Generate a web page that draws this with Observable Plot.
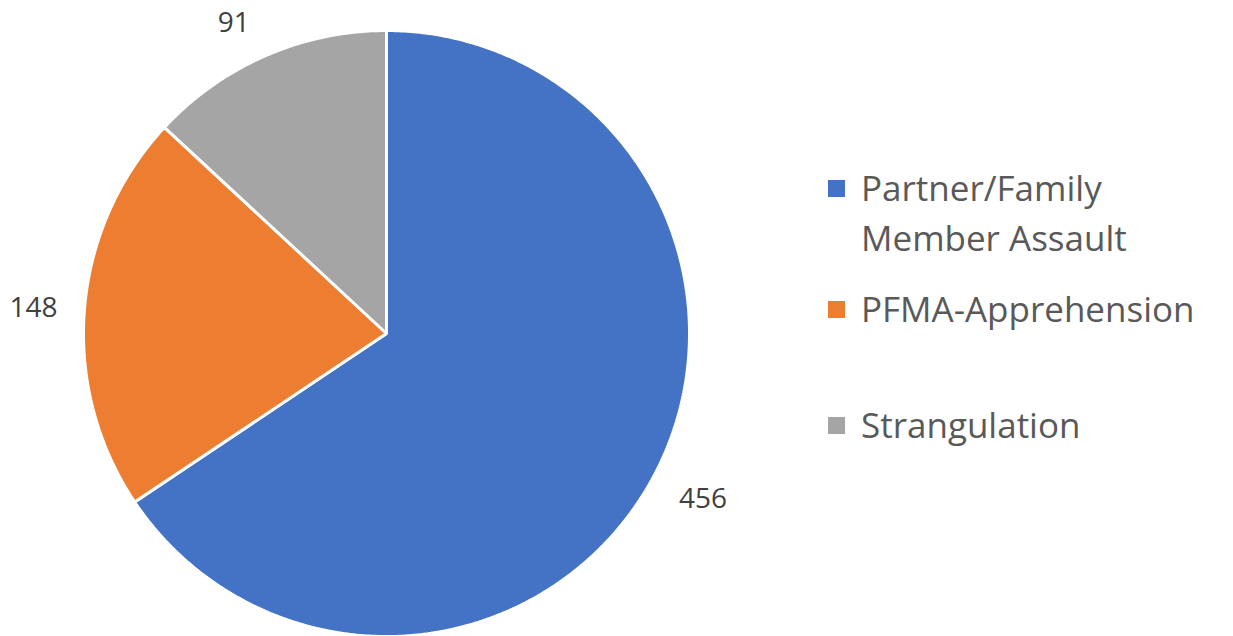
<!DOCTYPE html>
<html>
<head>
<meta charset="utf-8">
<script src="https://cdn.jsdelivr.net/npm/d3@7"></script>
<script src="https://cdn.jsdelivr.net/npm/@observablehq/plot@0.6"></script>
<style>
  html, body { margin: 0; padding: 0; background: #fff; }
  #wrap { position: relative; width: 1233px; height: 636px; overflow: hidden; font-family: "Open Sans", sans-serif; }
  #legend { position: absolute; left: 828px; top: 0; }
  .item { position: absolute; display: flex; align-items: flex-start; white-space: nowrap; }
  .sw { width: 17px; height: 17px; margin-right: 16px; flex: none; }
  .lbl { font-size: 35px; color: #595959; line-height: 50px; }
</style>
</head>
<body>
<div id="wrap"><div id="chart"></div><div id="legend"></div></div>
<script>
const categories = ["Partner/Family Member Assault", "PFMA-Apprehension", "Strangulation"];
const legendLines = [["Partner/Family", "Member Assault"], ["PFMA-Apprehension"], ["Strangulation"]];
const values = [456, 148, 91];
const colors = ["#4472C4", "#ED7D31", "#A5A5A5"];

const W = 1233, H = 636;
const cx = 386, cy = 333, R = 303;
// label offsets from slice edge (Excel best-fit placement)
const labelShift = [[6, 0], [-2, 2], [-12, 12]];

const pie = d3.pie().sort(null).value((d, i) => values[i])(categories);

const pts = [];
pie.forEach((s, i) => {
  const n = Math.max(2, Math.ceil((s.endAngle - s.startAngle) / 0.01));
  pts.push({cat: s.data, x: 0, y: 0});
  for (let k = 0; k <= n; k++) {
    const a = s.startAngle + (s.endAngle - s.startAngle) * k / n;
    pts.push({cat: s.data, x: R * Math.sin(a), y: -R * Math.cos(a)});
  }
});

const labelR = R + 49;
const labels = pie.map((s, i) => {
  const a = (s.startAngle + s.endAngle) / 2;
  return {text: String(values[i]), x: labelR * Math.sin(a), y: -labelR * Math.cos(a), i};
});

const plot = Plot.plot({
  width: W, height: H,
  margin: 0,
  x: {domain: [-cx, W - cx], range: [0, W], axis: null},
  y: {domain: [-cy, H - cy], range: [0, H], axis: null},
  color: {domain: categories, range: colors},
  marks: [
    Plot.line(pts, {x: "x", y: "y", z: "cat", fill: "cat", stroke: "white", strokeWidth: 3, strokeLinejoin: "miter", curve: "linear-closed"}),
    ...labels.map(l => Plot.text([l], {x: "x", y: "y", text: "text", dx: labelShift[l.i][0], dy: labelShift[l.i][1], fontSize: 28, fill: "#404040", fontFamily: "Open Sans"}))
  ]
});
document.getElementById("chart").appendChild(plot);

const legendTops = [163, 284, 400];
const leg = document.getElementById("legend");
categories.forEach((c, i) => {
  const item = document.createElement("div");
  item.className = "item";
  item.style.top = legendTops[i] + "px";
  const sw = document.createElement("div");
  sw.className = "sw";
  sw.style.background = colors[i];
  sw.style.marginTop = "17px";
  const lb = document.createElement("div");
  lb.className = "lbl";
  lb.innerHTML = legendLines[i].join("<br>");
  item.appendChild(sw); item.appendChild(lb);
  leg.appendChild(item);
});
</script>
</body>
</html>
